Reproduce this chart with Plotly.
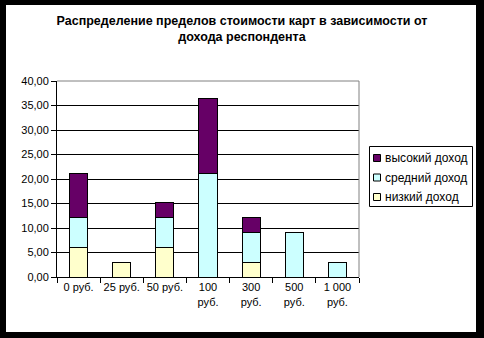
import plotly.graph_objects as go

# Cost-limit categories and their display labels
categories = ["0 руб.", "25 руб.", "50 руб.", "100 руб.", "300 руб.", "500 руб.", "1 000 руб."]
tick_labels = ["0 руб.", "25 руб.", "50 руб.", "100<br>руб.", "300<br>руб.", "500<br>руб.", "1 000<br>руб."]

# Share of respondents (%) by income group
low_income = [6.06, 3.03, 6.06, 0, 3.03, 0, 0]
mid_income = [6.06, 0, 6.06, 21.21, 6.06, 9.09, 3.03]
high_income = [9.09, 0, 3.03, 15.15, 3.03, 0, 0]

series_names = ["низкий доход", "средний доход", "высокий доход"]
series_colors = ["#ffffcc", "#ccffff", "#660066"]

y_ticks = [0, 5, 10, 15, 20, 25, 30, 35, 40]
y_tick_labels = ["0,00", "5,00", "10,00", "15,00", "20,00", "25,00", "30,00", "35,00", "40,00"]

FONT = "Arial, Liberation Sans, sans-serif"

W, H = 484, 338
ML, MR, MT, MB = 57, 125, 81, 61
PW, PH = W - ML - MR, H - MT - MB


def px_x(px):
    return (px - ML) / PW


def px_y(py):
    return (H - MB - py) / PH


fig = go.Figure()
for name, vals, col in zip(series_names, [low_income, mid_income, high_income], series_colors):
    fig.add_trace(go.Bar(
        x=categories, y=vals, name=name,
        marker=dict(color=col, line=dict(color="black", width=1)),
    ))

shapes = [
    # white chart area inside the black frame
    dict(type="rect", xref="paper", yref="paper",
         x0=px_x(6), x1=px_x(476), y0=px_y(332), y1=px_y(5),
         fillcolor="white", line=dict(width=0), layer="below"),
    # grey plot-area border on top and right
    dict(type="line", xref="paper", yref="paper", x0=0, x1=1, y0=1, y1=1,
         line=dict(color="#808080", width=1), layer="above"),
    dict(type="line", xref="paper", yref="paper", x0=1, x1=1, y0=0, y1=1,
         line=dict(color="#808080", width=1), layer="above"),
    # legend frame
    dict(type="rect", xref="paper", yref="paper",
         x0=px_x(369.5), x1=px_x(472.5), y0=px_y(206.5), y1=px_y(146.5),
         fillcolor="white", line=dict(color="black", width=1), layer="above"),
]
annotations = []

# legend entries, top entry is the last series
row_y = [158, 177.5, 197]
for i, idx in enumerate(reversed(range(len(series_names)))):
    cy = row_y[i]
    shapes.append(dict(
        type="rect", xref="paper", yref="paper",
        x0=px_x(373.5), x1=px_x(380.5), y0=px_y(cy + 3.5), y1=px_y(cy - 3.5),
        fillcolor=series_colors[idx], line=dict(color="black", width=1), layer="above",
    ))
    annotations.append(dict(
        xref="paper", yref="paper", x=px_x(383), y=px_y(cy),
        xanchor="left", yanchor="middle", showarrow=False,
        text=series_names[idx],
        font=dict(family=FONT, size=12, color="black"),
    ))

fig.update_layout(
    width=W, height=H,
    margin=dict(l=ML, r=MR, t=MT, b=MB),
    barmode="stack",
    bargap=0.58,
    paper_bgcolor="black",
    plot_bgcolor="#c0c0c0",
    font=dict(family=FONT, size=11, color="black"),
    title=dict(
        text="<b>Распределение пределов стоимости карт в зависимости от<br>дохода респондента</b>",
        x=0.5, xanchor="center", xref="container",
        y=1 - 25 / H, yanchor="top", yref="container",
        font=dict(family=FONT, size=12.5, color="black"),
    ),
    showlegend=False,
    xaxis=dict(
        categoryorder="array", categoryarray=categories,
        tickmode="array", tickvals=categories, ticktext=tick_labels,
        tickangle=0,
        tickson="boundaries", ticks="outside", ticklen=5, tickcolor="black",
        showline=True, linecolor="black", linewidth=1,
        showgrid=False, zeroline=False,
        tickfont=dict(family=FONT, size=11, color="black"),
    ),
    yaxis=dict(
        range=[0, 40], tickmode="array", tickvals=y_ticks, ticktext=y_tick_labels,
        ticks="outside", ticklen=5, tickcolor="black",
        showline=True, linecolor="black", linewidth=1,
        showgrid=True, gridcolor="black", gridwidth=1,
        zeroline=False,
        tickfont=dict(family=FONT, size=11, color="black"),
    ),
    shapes=shapes,
    annotations=annotations,
)

fig.write_html("out.html")
